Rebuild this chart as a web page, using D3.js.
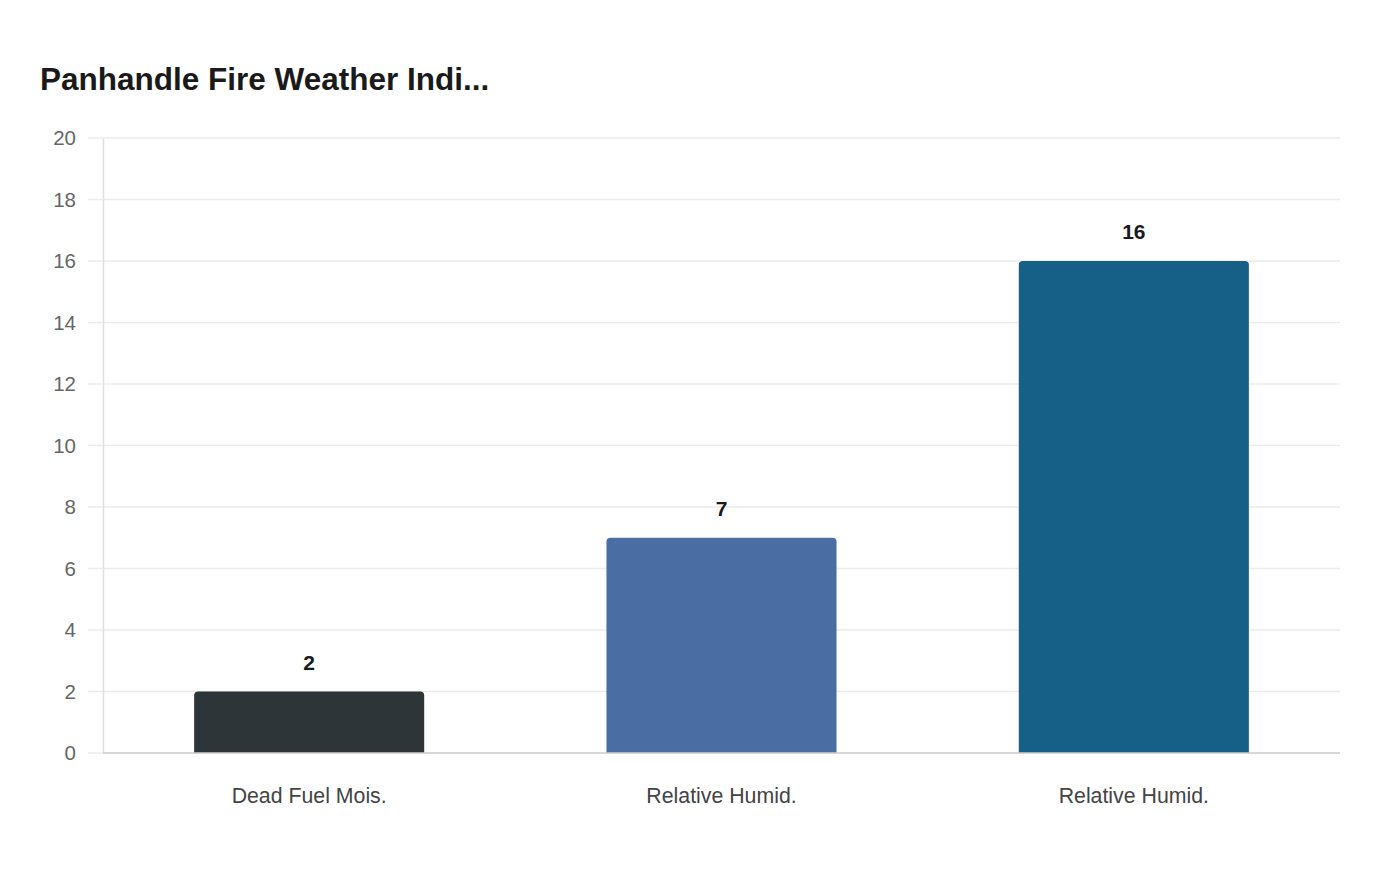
<!DOCTYPE html>
<html>
  <head>
    <meta charset="utf-8">
    <script src="https://cdn.jsdelivr.net/npm/d3@7"></script>
    <style>
      body { margin: 0; background: #fff; }
      svg { display: block; font-family: "Liberation Sans", Arial, sans-serif; }
    </style>
  </head>
  <body>
    <script>
      const categories = ['Dead Fuel Mois.', 'Relative Humid.', 'Relative Humid.']
      const values = [2, 7, 16]
      const colors = ['#2e3538', '#4a6ea3', '#166088']
      const yTicks = [0, 2, 4, 6, 8, 10, 12, 14, 16, 18, 20]
      const title = 'Panhandle Fire Weather Indi...'

      const W = 1400, H = 880
      const margin = {top: 138, right: 60, bottom: 127, left: 103}

      const svg = d3.select('body').append('svg')
        .attr('width', W).attr('height', H)

      svg.append('text')
        .attr('x', 40).attr('y', 90)
        .attr('font-size', 31.5).attr('font-weight', 'bold')
        .attr('fill', '#1a1a1a')
        .text(title)

      const x = d3.scaleBand()
        .domain(d3.range(categories.length))
        .range([margin.left, W - margin.right])
        .paddingInner(0.442).paddingOuter(0.221)

      const y = d3.scaleLinear()
        .domain([0, 20])
        .range([H - margin.bottom, margin.top])

      // grid lines
      svg.append('g')
        .selectAll('line')
        .data(yTicks)
        .join('line')
        .attr('x1', margin.left - 15).attr('x2', W - margin.right)
        .attr('y1', d => y(d)).attr('y2', d => y(d))
        .attr('stroke', '#ebebeb').attr('stroke-width', 1.5)

      // y axis
      const yAxis = svg.append('g')
        .attr('transform', `translate(${margin.left},0)`)
        .call(d3.axisLeft(y).tickValues(yTicks).tickSize(0).tickPadding(27))
      yAxis.select('.domain').attr('stroke', '#e0e0e0').attr('stroke-width', 1.5)
      yAxis.selectAll('text')
        .attr('font-size', 20.5).attr('fill', '#666').attr('font-family', 'inherit')

      // bars with rounded top corners
      const r = 4
      function barPath(x0, y0, w, h) {
        return `M${x0},${y0 + h}V${y0 + r}Q${x0},${y0} ${x0 + r},${y0}` +
          `H${x0 + w - r}Q${x0 + w},${y0} ${x0 + w},${y0 + r}V${y0 + h}Z`
      }
      svg.append('g')
        .selectAll('path')
        .data(values)
        .join('path')
        .attr('d', (d, i) => barPath(x(i), y(d), x.bandwidth(), y(0) - y(d)))
        .attr('fill', (d, i) => colors[i])

      // baseline
      svg.append('line')
        .attr('x1', margin.left).attr('x2', W - margin.right)
        .attr('y1', y(0)).attr('y2', y(0))
        .attr('stroke', '#cfcfcf').attr('stroke-width', 1.5)

      // value labels
      svg.append('g')
        .selectAll('text')
        .data(values)
        .join('text')
        .attr('x', (d, i) => x(i) + x.bandwidth() / 2)
        .attr('y', d => y(d) - 22)
        .attr('text-anchor', 'middle')
        .attr('font-size', 21).attr('font-weight', 'bold')
        .attr('fill', '#1a1a1a')
        .text(d => d)

      // category labels
      svg.append('g')
        .selectAll('text')
        .data(categories)
        .join('text')
        .attr('x', (d, i) => x(i) + x.bandwidth() / 2)
        .attr('y', y(0) + 50)
        .attr('text-anchor', 'middle')
        .attr('font-size', 21.3).attr('fill', '#444')
        .text(d => d)
    </script>
  </body>
</html>
